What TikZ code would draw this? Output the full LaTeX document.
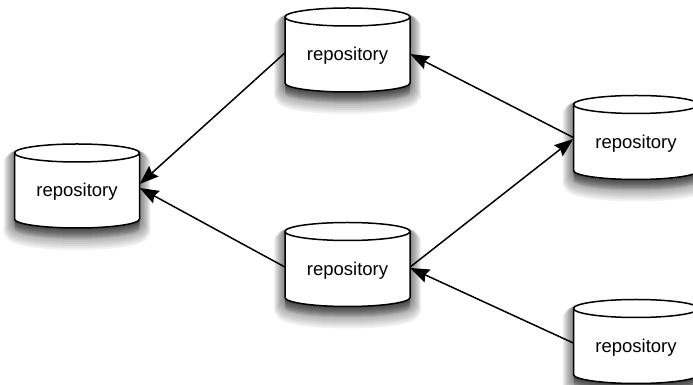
\documentclass[tikz,border=0pt]{standalone}
\usepackage{fontspec}
\setmainfont{Liberation Sans}
\usetikzlibrary{arrows.meta}
\tikzset{
  x=1pt, y=1pt,
  repo/.style={rectangle, minimum width=125pt, minimum height=84pt, inner sep=0pt},
  repotext/.style={font=\fontsize{18.5}{20}\selectfont, inner sep=0pt},
  link/.style={line width=1.5pt, -{Stealth[length=19pt,width=14pt,inset=2.5pt]}},
  body/.style={fill=white, draw=black, line width=1.5pt},
  shadowlayer/.style={fill=black, fill opacity=0.055, draw=black, draw opacity=0.055},
}
\newcommand\repo[3]{%
  \foreach \w in {22,20,18,16,14,12,10,8,6,4,2} {
    \filldraw[shadowlayer, line width=\w pt]
      (#2-62.5,#3+33-\w/2) -- (#2-62.5,#3-33-\w/2)
      arc[start angle=180,end angle=360,x radius=62.5,y radius=9]
      -- (#2+62.5,#3+33-\w/2)
      arc[start angle=0,end angle=180,x radius=62.5,y radius=9] -- cycle;
  }
}
\newcommand\repobody[3]{%
  \filldraw[body]
    (#2-62.5,#3+33) -- (#2-62.5,#3-33)
    arc[start angle=180,end angle=360,x radius=62.5,y radius=9]
    -- (#2+62.5,#3+33)
    arc[start angle=0,end angle=180,x radius=62.5,y radius=9] -- cycle;
  \draw[line width=1.5pt] (#2-62.5,#3+33)
    arc[start angle=180,end angle=360,x radius=62.5,y radius=9];
  \node[repo] (#1) at (#2,#3) {};
  \node[repotext] (#1t) at (#2,#3-6) {repository};
}
\begin{document}
\begin{tikzpicture}
  \useasboundingbox (0,0) rectangle (693,385);
  \clip (0,0) rectangle (693,385);
  % shadows
  \repo{l}{77}{199}
  \repo{tc}{347.5}{335}
  \repo{r}{636}{247.5}
  \repo{bc}{347.5}{120.5}
  \repo{br}{636}{43.5}
  % bodies
  \repobody{l}{77}{199}
  \repobody{tc}{347.5}{335}
  \repobody{r}{636}{247.5}
  \repobody{bc}{347.5}{120.5}
  \repobody{br}{636}{43.5}
  % connectors
  \draw[link] ([yshift=-3pt]tc.west) -- ([yshift=2pt]l.east);
  \draw[link] ([yshift=-2.5pt]bc.west) -- ([yshift=-2pt]l.east);
  \draw[link] (r.west) -- ([yshift=-4pt]tc.east);
  \draw[link] ([yshift=-2.5pt]bc.east) -- ([yshift=-1.5pt]r.west);
  \draw[link] ([yshift=-1.5pt]br.west) -- ([yshift=-3.5pt]bc.east);
\end{tikzpicture}
\end{document}
